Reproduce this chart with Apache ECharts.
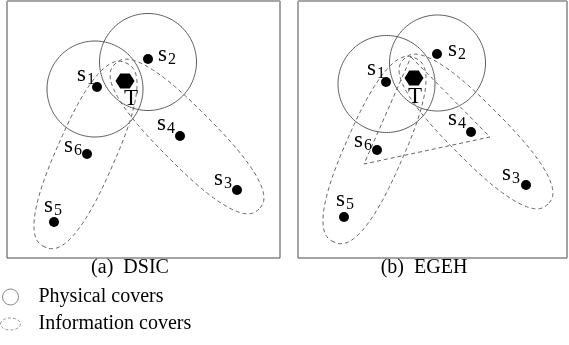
<!DOCTYPE html>
<html>
<head>
<meta charset="utf-8">
<script src="https://cdn.jsdelivr.net/npm/echarts@6/dist/echarts.min.js"></script>
<style>
  html, body { margin: 0; padding: 0; background: #fff; }
  #chart { width: 569px; height: 345px; }
</style>
</head>
<body>
<div id="chart"></div>
<script>
// ---- Field data (field units, origin at the top-left corner of each field) ----

// Sensor ids, drawn as "s" with a subscript number
const sensorIds = ['1', '2', '3', '4', '5', '6'];

// (a) DSIC: sensor positions and the target
const dsicX = [90, 141, 230, 173, 47, 80];
const dsicY = [86, 58, 189, 135, 221, 153];
const dsicTarget = [118, 80];

// (b) EGEH: sensor positions and the target
const egehX = [88, 139, 228, 173, 46, 79];
const egehY = [81, 53, 184, 131, 216, 149];
const egehTarget = [116, 77];

// Physical covers: [centerX, centerY, radius]
const dsicPhysical = [[88, 88, 48], [141, 61, 48.5]];
const egehPhysical = [[88.5, 83, 48.5], [139.5, 62, 48]];

// Information covers: elongated ovals [end1X, end1Y, end2X, end2Y, halfWidth]
const dsicInfo = [[119, 62, 38, 246, 29], [108, 63, 252, 208, 28]];
const egehInfo = [[117, 57, 36, 241, 29], [106, 58, 250, 203, 28]];

// EGEH triangular information cover (vertices)
const egehTriangle = [[113, 56], [192, 136], [66, 163]];

// Captions and legend names
const captions = ['(a)  DSIC', '(b)  EGEH'];
const physicalName = 'Physical covers';
const infoName = 'Information covers';

// ---- Styling ----
const SERIF = '"Liberation Serif", "DejaVu Serif", serif';
const LINE = '#666';
const OVAL_EXP = 2.5;   // superellipse exponent of the information covers
// label offsets (px) for s1..s6 and the target, per panel
const dsicLabelOffset = [[-11, -12], [19, -4], [-14, -11], [-14, -12], [-1, -16], [-14, -8]];
const egehLabelOffset = [[-10, -13], [20, -4], [-15, -11], [-14, -13], [1, -17], [-14, -9]];
const dsicTargetOffset = [6, 18];
const egehTargetOffset = [1, 19];

const chart = echarts.init(document.getElementById('chart'), null, { renderer: 'canvas' });

const grids = [
  { left: 7, top: 1, width: 273, height: 257 },
  { left: 298, top: 1, width: 269, height: 257 }
];

// outline of a rotated superellipse (exp = 2 gives a plain ellipse), in pixels
function ovalPoints(api, cx, cy, a, b, theta, exp) {
  const pts = [];
  const n = 144;
  const p = 2 / exp;
  for (let i = 0; i < n; i++) {
    const t = (i / n) * Math.PI * 2;
    const c = Math.cos(t), s = Math.sin(t);
    const ex = a * Math.sign(c) * Math.pow(Math.abs(c), p);
    const ey = b * Math.sign(s) * Math.pow(Math.abs(s), p);
    pts.push(api.coord([
      cx + ex * Math.cos(theta) - ey * Math.sin(theta),
      cy + ex * Math.sin(theta) + ey * Math.cos(theta)
    ]));
  }
  return pts;
}

function physicalSeries(data, idx) {
  return {
    type: 'custom', name: physicalName, xAxisIndex: idx, yAxisIndex: idx,
    silent: true, z: 2,
    data: data,
    renderItem: function (params, api) {
      const cx = api.value(0), cy = api.value(1), r = api.value(2);
      return {
        type: 'polygon',
        shape: { points: ovalPoints(api, cx, cy, r, r, 0, 2) },
        style: { fill: 'none', stroke: '#5c5c5c', lineWidth: 1 }
      };
    }
  };
}

function infoSeries(data, idx) {
  return {
    type: 'custom', name: infoName, xAxisIndex: idx, yAxisIndex: idx,
    silent: true, z: 2,
    data: data,
    renderItem: function (params, api) {
      const x1 = api.value(0), y1 = api.value(1), x2 = api.value(2), y2 = api.value(3);
      const hw = api.value(4);
      const cx = (x1 + x2) / 2, cy = (y1 + y2) / 2;
      const a = Math.hypot(x2 - x1, y2 - y1) / 2;
      const theta = Math.atan2(y2 - y1, x2 - x1);
      return {
        type: 'polygon',
        shape: { points: ovalPoints(api, cx, cy, a, hw, theta, OVAL_EXP) },
        style: { fill: 'none', stroke: LINE, lineWidth: 1, lineDash: [4, 3] }
      };
    }
  };
}

function triangleSeries(verts, idx) {
  return {
    type: 'custom', name: infoName, xAxisIndex: idx, yAxisIndex: idx,
    silent: true, z: 2,
    data: [verts.flat()],
    renderItem: function (params, api) {
      const pts = [];
      for (let i = 0; i < 3; i++) pts.push(api.coord([api.value(2 * i), api.value(2 * i + 1)]));
      return {
        type: 'polygon',
        shape: { points: pts },
        style: { fill: 'none', stroke: LINE, lineWidth: 1, lineDash: [4, 3] }
      };
    }
  };
}

const sensorRich = {
  s: { fontFamily: SERIF, fontSize: 23, color: '#000', lineHeight: 23 },
  n: { fontFamily: SERIF, fontSize: 16, color: '#000', lineHeight: 16, padding: [9, 0, 0, 1] }
};

function sensorSeries(xs, ys, offsets, idx) {
  return {
    type: 'scatter', xAxisIndex: idx, yAxisIndex: idx, z: 5,
    symbol: 'circle', symbolSize: 10, silent: true,
    itemStyle: { color: '#000', opacity: 1 },
    data: sensorIds.map(function (id, i) {
      return {
        name: id, value: [xs[i], ys[i]],
        label: { offset: offsets[i] }
      };
    }),
    label: {
      show: true, position: 'inside', align: 'center', verticalAlign: 'middle',
      formatter: function (p) { return '{s|s}{n|' + p.name + '}'; },
      rich: sensorRich
    }
  };
}

function targetSeries(pt, offset, idx) {
  return {
    type: 'scatter', xAxisIndex: idx, yAxisIndex: idx, z: 6, silent: true,
    symbol: 'path://M0,5 L3,0 L9,0 L12,5 L9,10 L3,10 Z',
    symbolSize: [19, 15], symbolKeepAspect: false,
    itemStyle: { color: '#000', opacity: 1 },
    data: [{ name: 'T', value: pt }],
    label: {
      show: true, position: 'inside', offset: offset,
      formatter: 'T', color: '#000', fontFamily: SERIF, fontSize: 23
    }
  };
}

const option = {
  backgroundColor: '#fff',
  animation: false,
  grid: grids.map(function (g) {
    return Object.assign({ show: true, borderColor: '#4a4a4a', borderWidth: 1, backgroundColor: 'transparent' }, g);
  }),
  xAxis: [
    { gridIndex: 0, type: 'value', min: 0, max: 273, show: false },
    { gridIndex: 1, type: 'value', min: 0, max: 269, show: false }
  ],
  yAxis: [
    { gridIndex: 0, type: 'value', min: 0, max: 257, inverse: true, show: false },
    { gridIndex: 1, type: 'value', min: 0, max: 257, inverse: true, show: false }
  ],
  legend: {
    orient: 'vertical', left: 0, top: 287, itemGap: 7, padding: 0,
    itemWidth: 20, itemHeight: 16, selectedMode: false, symbolKeepAspect: true,
    textStyle: { fontFamily: SERIF, fontSize: 20, color: '#000', padding: [0, 0, 0, 13] },
    data: [
      { name: physicalName, icon: 'circle',
        itemStyle: { color: '#fff', borderColor: '#888', borderWidth: 1 } },
      { name: infoName, icon: 'path://M0,6 A10,6 0 1,1 20,6 A10,6 0 1,1 0,6 Z',
        itemStyle: { color: '#fff', borderColor: '#999', borderWidth: 1, borderType: [3, 2] } }
    ]
  },
  graphic: [
    { type: 'line', shape: { x1: 7, y1: 1.5, x2: 280, y2: 1.5 }, style: { stroke: '#a8a8a8', lineWidth: 1 }, z: 100 },
    { type: 'line', shape: { x1: 298, y1: 1.5, x2: 567, y2: 1.5 }, style: { stroke: '#a8a8a8', lineWidth: 1 }, z: 100 },
    { type: 'text', x: 130, y: 268, style: { text: captions[0], fontFamily: SERIF, fontSize: 20, fill: '#000', align: 'center', verticalAlign: 'middle' } },
    { type: 'text', x: 424, y: 268, style: { text: captions[1], fontFamily: SERIF, fontSize: 20, fill: '#000', align: 'center', verticalAlign: 'middle' } }
  ],
  series: [
    physicalSeries(dsicPhysical, 0),
    infoSeries(dsicInfo, 0),
    sensorSeries(dsicX, dsicY, dsicLabelOffset, 0),
    targetSeries(dsicTarget, dsicTargetOffset, 0),
    physicalSeries(egehPhysical, 1),
    infoSeries(egehInfo, 1),
    triangleSeries(egehTriangle, 1),
    sensorSeries(egehX, egehY, egehLabelOffset, 1),
    targetSeries(egehTarget, egehTargetOffset, 1)
  ]
};

chart.setOption(option);
</script>
</body>
</html>
